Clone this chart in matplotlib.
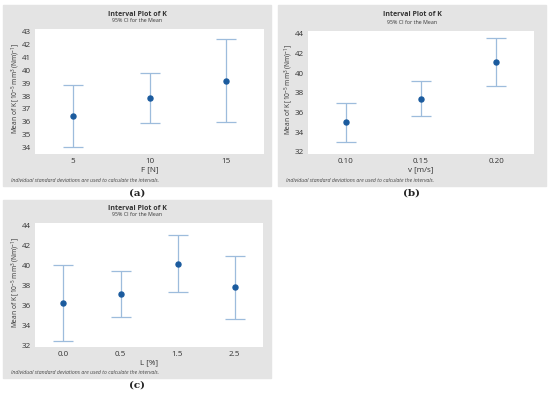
import numpy as np
import matplotlib.pyplot as plt
from matplotlib.patches import Rectangle

W, H = 550, 394

# panel (a): F [N]
f_labels = ['5', '10', '15']
f_mean = [36.45, 37.85, 39.15]
f_lo = [34.05, 35.9, 35.95]
f_hi = [38.85, 39.8, 42.4]

# panel (b): v [m/s]
v_labels = ['0.10', '0.15', '0.20']
v_mean = [35.0, 37.4, 41.1]
v_lo = [33.0, 35.6, 38.65]
v_hi = [37.0, 39.2, 43.55]

# panel (c): L [%]
l_labels = ['0.0', '0.5', '1.5', '2.5']
l_mean = [36.25, 37.1, 40.2, 37.8]
l_lo = [32.45, 34.8, 37.35, 34.6]
l_hi = [40.05, 39.45, 43.1, 40.95]

BAR = '#9dbcdc'
DOT = '#1b5b9e'
GRAY = '#e4e4e4'
FONT = 'Open Sans'

plt.rcParams['mathtext.fontset'] = 'custom'
plt.rcParams['mathtext.rm'] = FONT
plt.rcParams['mathtext.it'] = FONT

fig = plt.figure(figsize=(W / 100, H / 100), dpi=100)


def fx(x):
    return x / W


def fy(y):
    return 1 - y / H


def panel(box, ax_box, labels, mean, lo, hi, ylim, yticks, xlabel, tag, title_y):
    x0, y0, x1, y1 = box
    fig.patches.append(Rectangle((fx(x0), fy(y1)), fx(x1 - x0), (y1 - y0) / H,
                                 transform=fig.transFigure, color=GRAY, zorder=-5))
    a0, b0, a1, b1 = ax_box
    ax = fig.add_axes([fx(a0), fy(b1), fx(a1 - a0), (b1 - b0) / H])
    ax.set_zorder(5)
    ax.set_facecolor('white')
    pos = np.arange(len(labels))
    mean = np.array(mean)
    err = [mean - np.array(lo), np.array(hi) - mean]
    ax.errorbar(pos, mean, yerr=err, fmt='none', ecolor=BAR, elinewidth=0.9,
                capsize=7, capthick=0.9)
    ax.plot(pos, mean, 'o', color=DOT, markersize=3.6)
    ax.set_xlim(-0.5, len(labels) - 0.5)
    ax.set_ylim(*ylim)
    ax.set_yticks(yticks)
    ax.set_xticks(pos)
    ax.set_xticklabels(labels)
    ax.tick_params(labelsize=5.8, length=0, pad=3, colors='#333333')
    for s in ax.spines.values():
        s.set_visible(False)
    for t in ax.get_xticklabels() + ax.get_yticklabels():
        t.set_family(FONT)
    fig.text(fx(a0 - 19), fy((b0 + b1) / 2 - 3), 'Mean of K [10$^{-5}$ mm$^{3}$ (Nm)$^{-1}$]',
             rotation=90, ha='center', va='center', fontsize=4.8, family=FONT, color='#333333')
    cx = (x0 + x1) / 2
    fig.text(fx(cx), fy(title_y), 'Interval Plot of K', ha='center', va='center',
             fontsize=5, fontweight='bold', family=FONT, color='#333333')
    fig.text(fx(cx), fy(title_y + 7), '95% CI for the Mean', ha='center', va='center',
             fontsize=3.8, family=FONT, color='#333333')
    fig.text(fx((a0 + a1) / 2), fy(b1 + 16), xlabel, ha='center', va='center',
             fontsize=5.8, family=FONT, color='#333333')
    fig.text(fx(x0 + 8), fy(y1 - 5), 'Individual standard deviations are used to calculate the intervals.',
             ha='left', va='center', fontsize=3.7, style='italic', family=FONT, color='#444444')
    fig.text(fx(cx), fy(y1 + 7), tag, ha='center', va='center', fontsize=7.5,
             fontweight='bold', family='DejaVu Serif', color='#222222')
    return ax


panel((3, 5, 271, 186), (35, 29, 264, 154), f_labels, f_mean, f_lo, f_hi,
      (33.5, 43.2), range(34, 44), 'F [N]', '(a)', 14)
panel((278, 5, 546, 186), (308, 31, 534, 154), v_labels, v_mean, v_lo, v_hi,
      (31.77, 44.3), range(32, 45, 2), 'v [m/s]', '(b)', 15)
panel((3, 200, 271, 378), (35, 223, 263, 347), l_labels, l_mean, l_lo, l_hi,
      (31.8, 44.3), range(32, 45, 2), 'L [%]', '(c)', 208)

fig.savefig('out.png', dpi=100)
